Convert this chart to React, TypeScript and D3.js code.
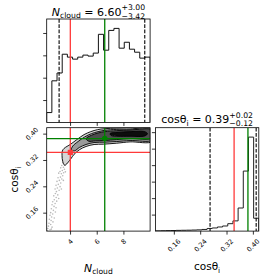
import React, { useEffect, useRef } from 'react';
import * as d3 from 'd3';

// ranges of the two parameters
const nCloudRange = [2.25, 10.0];
const cosRange = [0.104, 0.418];

// 1D histograms (20 bins over the ranges above)
const nCloudCounts = [88, 372, 442, 610, 584, 566, 584, 602, 593, 620, 788, 646, 823, 841, 664, 717, 655, 628, 575, 584];
const cosCounts = [8, 12, 15, 18, 22, 25, 28, 32, 38, 50, 80, 95, 125, 155, 225, 310, 700, 1820, 2850, 390];

// ticks
const nCloudTicks = [4, 6, 8];
const cosTicks = [0.16, 0.24, 0.32, 0.40];
const nCloudCountTicks = [200, 400, 600, 800];
const cosCountTicks = [500, 1000, 1500, 2000, 2500, 3000];

// dashed quantiles, median (green) and truth (red)
const nCloudQuantiles = [3.18, 9.6];
const cosQuantiles = [0.27, 0.41];
const medianValues = [6.6, 0.385];
const truthValues = [4.02, 0.343];

// contour outlines (N_cloud, cos)
const contourOuter = [
  [3.6, 0.304], [3.45, 0.316], [3.4, 0.333], [3.42, 0.347], [3.55, 0.355], [4.05, 0.368],
  [4.55, 0.383], [5.05, 0.397], [5.55, 0.406], [6.05, 0.412], [6.6, 0.415], [7.5, 0.417],
  [8.5, 0.419], [10.2, 0.42], [10.2, 0.377], [8.5, 0.375], [7.5, 0.371], [6.5, 0.368],
  [5.8, 0.367], [5.2, 0.361], [4.7, 0.351], [4.3, 0.337], [4.05, 0.323],
];
const contourMid = [
  [4.1, 0.35], [4.2, 0.362], [4.6, 0.376], [5.1, 0.39], [5.6, 0.4], [6.1, 0.406],
  [6.6, 0.41], [7.5, 0.413], [8.5, 0.414], [10.2, 0.415], [10.2, 0.381], [8.5, 0.379],
  [7.5, 0.376], [6.6, 0.374], [5.8, 0.373], [5.2, 0.367], [4.7, 0.358], [4.35, 0.348],
];
const contourInner = [
  [5.2, 0.385], [5.6, 0.395], [6.1, 0.402], [6.6, 0.406], [7.5, 0.409], [8.5, 0.411],
  [10.2, 0.411], [10.2, 0.387], [8.5, 0.385], [7.5, 0.382], [6.6, 0.379], [5.9, 0.378], [5.4, 0.377],
];
const contourCore = [
  [7.0, 0.4], [7.6, 0.404], [8.5, 0.406], [9.6, 0.406], [9.8, 0.4], [9.6, 0.393],
  [8.5, 0.392], [7.6, 0.392], [7.1, 0.394],
];

// samples outside the outer contour
const samplePoints = [
  [3.55, 0.325], [3.7, 0.318], [3.45, 0.312], [3.62, 0.305], [3.38, 0.303], [3.5, 0.298], [3.75, 0.31], [3.3, 0.296],
  [3.58, 0.292], [3.42, 0.288], [3.25, 0.285], [3.52, 0.281], [3.35, 0.278], [3.65, 0.284], [3.15, 0.28],
  [3.45, 0.272], [3.28, 0.268], [3.1, 0.266], [3.38, 0.262], [3.2, 0.258], [3.02, 0.255], [3.5, 0.258], [3.3, 0.25],
  [3.12, 0.246], [2.95, 0.243], [3.25, 0.239], [3.05, 0.235], [2.88, 0.232], [3.18, 0.228], [2.98, 0.224], [3.35, 0.232],
  [2.9, 0.218], [3.08, 0.214], [2.78, 0.211], [2.96, 0.206], [3.15, 0.203], [2.82, 0.199], [3.0, 0.195], [2.7, 0.193],
  [2.88, 0.188], [2.65, 0.184], [2.8, 0.179], [2.95, 0.175], [2.6, 0.172], [2.75, 0.167], [2.9, 0.162], [2.55, 0.16],
  [2.7, 0.156], [2.5, 0.152], [2.62, 0.147], [2.82, 0.144], [2.45, 0.14], [2.58, 0.136], [2.72, 0.132],
  [2.42, 0.128], [2.55, 0.124], [2.38, 0.119], [2.65, 0.116], [2.33, 0.112], [2.5, 0.108], [2.3, 0.106], [2.6, 0.11],
];

const FONT = 'DejaVu Sans, sans-serif';
const RED = '#ff3a3a';
const GREEN = '#008000';

type Piece = [string, number, number, boolean];

// draws a mathtext-like label: pieces, then an optional stacked sup/sub, centered at cx
function mathLabel(parent: any, cx: number, base: number, pieces: Piece[], sup?: string, sub?: string, rotate = 0) {
  const g = parent.append('g').attr('font-family', FONT).attr('fill', '#000');
  const inner = g.append('g');
  let x = 0;
  pieces.forEach(([s, size, dy, italic]) => {
    const t = inner.append('text').attr('x', x).attr('y', dy).attr('font-size', size)
      .style('white-space', 'pre').style('font-style', italic ? 'italic' : 'normal').text(s);
    x += (t.node() as SVGTextElement).getComputedTextLength();
  });
  if (sup && sub) {
    const a = inner.append('text').attr('x', x).attr('y', -5.5).attr('font-size', 7.7).text(sup);
    const b = inner.append('text').attr('x', x).attr('y', 3).attr('font-size', 7.7).text(sub);
    x += Math.max((a.node() as SVGTextElement).getComputedTextLength(), (b.node() as SVGTextElement).getComputedTextLength());
  }
  inner.attr('transform', `translate(${-x / 2},0)`);
  g.attr('transform', `translate(${cx},${base}) rotate(${rotate})`);
}

const App: React.FC = () => {
  const svgRef = useRef<SVGSVGElement>(null);

  useEffect(() => {
    if (!svgRef.current) return;
    const svg = d3.select(svgRef.current);
    svg.selectAll('*').remove();

    const L = 46.7, T = 19, S = 103.4, G = 5.3;
    const x0 = L, x1 = L + S + G;
    const y0 = T, y1 = T + S + G;

    const xN = d3.scaleLinear().domain(nCloudRange).range([x0, x0 + S]);
    const yCos = d3.scaleLinear().domain(cosRange).range([y1 + S, y1]);
    const xCos = d3.scaleLinear().domain(cosRange).range([x1, x1 + S]);
    const yNH = d3.scaleLinear().domain([0, 1.1 * (d3.max(nCloudCounts) as number)]).range([y0 + S, y0]);
    const yCosH = d3.scaleLinear().domain([0, 1.1 * (d3.max(cosCounts) as number)]).range([y1 + S, y1]);

    const defs = svg.append('defs');
    const clip = (id: string, x: number, y: number) =>
      defs.append('clipPath').attr('id', id).append('rect').attr('x', x).attr('y', y).attr('width', S).attr('height', S);
    clip('cTop', x0, y0);
    clip('c2d', x0, y1);
    clip('cRight', x1, y1);

    const stepPts = (counts: number[], range: number[]) => {
      const w = (range[1] - range[0]) / counts.length;
      const pts: number[][] = [[range[0], 0]];
      counts.forEach((c, i) => pts.push([range[0] + i * w, c], [range[0] + (i + 1) * w, c]));
      pts.push([range[1], 0]);
      return pts;
    };

    const vline = (g: any, x: number, ya: number, yb: number, color: string, dashed = false) =>
      g.append('line').attr('x1', x).attr('x2', x).attr('y1', ya).attr('y2', yb)
        .attr('stroke', color).attr('stroke-width', dashed ? 1.1 : 1.3)
        .attr('stroke-dasharray', dashed ? '3.7,1.6' : null);
    const hline = (g: any, y: number, xa: number, xb: number, color: string) =>
      g.append('line').attr('x1', xa).attr('x2', xb).attr('y1', y).attr('y2', y)
        .attr('stroke', color).attr('stroke-width', 1.3);

    // ---- top: N_cloud histogram
    const top = svg.append('g').attr('clip-path', 'url(#cTop)');
    top.append('path')
      .attr('d', d3.line().x(d => xN(d[0])).y(d => yNH(d[1]))(stepPts(nCloudCounts, nCloudRange) as any))
      .attr('fill', 'none').attr('stroke', '#111').attr('stroke-width', 1);
    nCloudQuantiles.forEach(q => vline(top, xN(q), y0, y0 + S, '#000', true));
    vline(top, xN(truthValues[0]), y0, y0 + S, RED);
    vline(top, xN(medianValues[0]), y0, y0 + S, GREEN);

    // ---- 2D panel
    const mid = svg.append('g').attr('clip-path', 'url(#c2d)');
    mid.selectAll('circle.pt').data(samplePoints).join('circle').attr('class', 'pt')
      .attr('cx', d => xN(d[0])).attr('cy', d => yCos(d[1])).attr('r', 0.8)
      .attr('fill', '#888').attr('fill-opacity', 0.6);
    const cline = d3.line().x(d => xN(d[0])).y(d => yCos(d[1])).curve(d3.curveCatmullRomClosed.alpha(0.5));
    const levels: [number[][], string][] = [
      [contourOuter, '#d4d4d4'], [contourMid, '#9a9a9a'], [contourInner, '#4d4d4d'], [contourCore, '#0d0d0d'],
    ];
    levels.forEach(([pts, fill]) => {
      mid.append('path').attr('d', cline(pts as any)).attr('fill', fill)
        .attr('stroke', '#000').attr('stroke-width', 0.9);
    });
    vline(mid, xN(truthValues[0]), y1, y1 + S, RED);
    hline(mid, yCos(truthValues[1]), x0, x0 + S, RED);
    vline(mid, xN(medianValues[0]), y1, y1 + S, GREEN);
    hline(mid, yCos(medianValues[1]), x0, x0 + S, GREEN);
    mid.append('rect').attr('x', xN(truthValues[0]) - 2.6).attr('y', yCos(truthValues[1]) - 2.6)
      .attr('width', 5.2).attr('height', 5.2).attr('fill', RED);
    mid.append('circle').attr('cx', xN(medianValues[0])).attr('cy', yCos(medianValues[1])).attr('r', 2.8).attr('fill', GREEN);

    // ---- right: cos histogram
    const right = svg.append('g').attr('clip-path', 'url(#cRight)');
    right.append('path')
      .attr('d', d3.line().x(d => xCos(d[0])).y(d => yCosH(d[1]))(stepPts(cosCounts, cosRange) as any))
      .attr('fill', 'none').attr('stroke', '#222').attr('stroke-width', 1);
    cosQuantiles.forEach(q => vline(right, xCos(q), y1, y1 + S, '#000', true));
    vline(right, xCos(truthValues[1]), y1, y1 + S, RED);
    vline(right, xCos(medianValues[1]), y1, y1 + S, GREEN);

    // ---- spines
    [[x0, y0], [x0, y1], [x1, y1]].forEach(([x, y]) => {
      svg.append('rect').attr('x', x).attr('y', y).attr('width', S).attr('height', S)
        .attr('fill', 'none').attr('stroke', '#000').attr('stroke-width', 0.8);
    });

    // ---- axes
    const styleAxis = (g: any, labels: boolean, side: 'bottom' | 'left') => {
      g.select('.domain').remove();
      g.selectAll('line').attr('stroke-width', 0.8);
      g.attr('font-family', FONT).attr('font-size', 6.6);
      if (!labels) { g.selectAll('text').remove(); return; }
      g.selectAll('text').each(function (this: SVGTextElement) {
        const t = d3.select(this);
        const len = this.getComputedTextLength();
        const box = (len + 6.5) / Math.SQRT2;
        t.attr('y', null).attr('x', null).attr('dy', null)
          .attr('text-anchor', 'middle').attr('dominant-baseline', 'central')
          .attr('transform', side === 'bottom'
            ? `translate(0,${7 + box / 2}) rotate(-45)`
            : `translate(${-7 - box / 2},0) rotate(-45)`);
      });
    };

    styleAxis(svg.append('g').attr('transform', `translate(0,${y0 + S})`)
      .call(d3.axisBottom(xN).tickValues(nCloudTicks).tickSize(3.5).tickSizeOuter(0)), false, 'bottom');
    styleAxis(svg.append('g').attr('transform', `translate(${x0},0)`)
      .call(d3.axisLeft(yNH).tickValues(nCloudCountTicks).tickSize(3.5).tickSizeOuter(0)), false, 'left');
    styleAxis(svg.append('g').attr('transform', `translate(0,${y1 + S})`)
      .call(d3.axisBottom(xN).tickValues(nCloudTicks).tickFormat(d3.format('d')).tickSize(3.5).tickSizeOuter(0)), true, 'bottom');
    styleAxis(svg.append('g').attr('transform', `translate(${x0},0)`)
      .call(d3.axisLeft(yCos).tickValues(cosTicks).tickFormat(d3.format('.2f')).tickSize(3.5).tickSizeOuter(0)), true, 'left');
    styleAxis(svg.append('g').attr('transform', `translate(0,${y1 + S})`)
      .call(d3.axisBottom(xCos).tickValues(cosTicks).tickFormat(d3.format('.2f')).tickSize(3.5).tickSizeOuter(0)), true, 'bottom');
    styleAxis(svg.append('g').attr('transform', `translate(${x1},0)`)
      .call(d3.axisLeft(yCosH).tickValues(cosCountTicks).tickSize(3.5).tickSizeOuter(0)), false, 'left');

    // ---- titles and labels
    mathLabel(svg, x0 + S / 2, 15.5, [['N', 11, 0, true], ['cloud', 7.7, 2.5, false], [' = 6.60', 11, 0, false]], '+3.00', '\u22123.42');
    mathLabel(svg, x1 + S / 2, 123, [['cosθ', 11, 0, false], ['i', 7.7, 2.5, false], [' = 0.39', 11, 0, false]], '+0.02', '\u22120.12');
    mathLabel(svg, x0 + S / 2, 271.5, [['N', 10.8, 0, true], ['cloud', 7.6, 2.5, false]]);
    mathLabel(svg, x1 + S / 2, 270, [['cosθ', 10.5, 0, false], ['i', 7.4, 2.5, false]]);
    mathLabel(svg, 18.3, y1 + S / 2, [['cosθ', 10.5, 0, false], ['i', 7.4, 2.5, false]], undefined, undefined, -90);
  }, []);

  return (
    <svg ref={svgRef} width={266} height={279}
      style={{ position: 'absolute', left: 0, top: 0, background: '#fff' }} />
  );
};

export default App;
